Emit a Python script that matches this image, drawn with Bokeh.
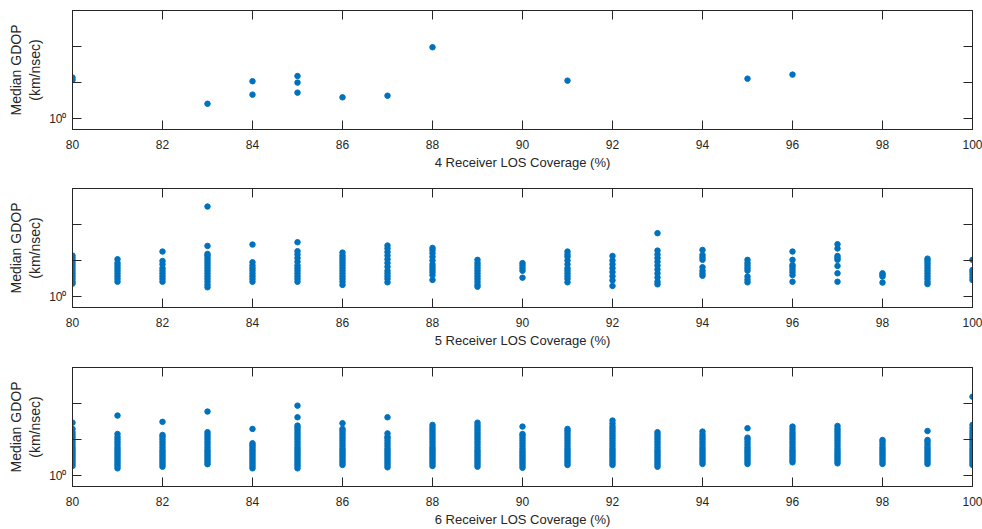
from bokeh.plotting import figure
from bokeh.models import FixedTicker, CustomJSTickFormatter, LinearAxis, LogAxis, Range1d
from bokeh.layouts import column
from bokeh.embed import file_html
from bokeh.resources import INLINE

# ---------------- data ----------------
xtick_values = [80, 82, 84, 86, 88, 90, 92, 94, 96, 98, 100]
ytick_values = [1.0, 1.2589, 1.5849, 1.9953]
ytick_labels = ["10\u2070", "", "", ""]

cov4 = [80, 83, 84, 85, 86, 87, 88, 91, 95, 96]
gdop4 = [
    [1.28, 1.30],
    [1.10],
    [1.166, 1.27],
    [1.181, 1.259, 1.313],
    [1.146],
    [1.158],
    [1.578],
    [1.275],
    [1.291],
    [1.325],
]

cov5 = [80, 81, 82, 83, 84, 85, 86, 87, 88, 89, 90, 91, 92, 93, 94, 95, 96, 97, 98, 99, 100]
gdop5 = [
    [1.087, 1.10, 1.12, 1.14, 1.16, 1.18, 1.20, 1.22, 1.24, 1.26, 1.28, 1.30],
    [1.10, 1.12, 1.14, 1.16, 1.18, 1.20, 1.22, 1.24, 1.27],
    [1.10, 1.12, 1.14, 1.16, 1.18, 1.20, 1.23, 1.256, 1.334],
    [1.062, 1.08, 1.10, 1.12, 1.14, 1.16, 1.18, 1.20, 1.22, 1.24, 1.26, 1.28, 1.30, 1.314, 1.383, 1.778],
    [1.10, 1.12, 1.14, 1.16, 1.18, 1.20, 1.22, 1.246, 1.395],
    [1.10, 1.12, 1.14, 1.16, 1.18, 1.20, 1.22, 1.25, 1.28, 1.31, 1.337, 1.416],
    [1.078, 1.10, 1.12, 1.14, 1.16, 1.18, 1.20, 1.22, 1.24, 1.26, 1.28, 1.30, 1.325],
    [1.096, 1.12, 1.14, 1.16, 1.18, 1.21, 1.24, 1.27, 1.30, 1.33, 1.36, 1.386],
    [1.113, 1.148, 1.17, 1.19, 1.21, 1.23, 1.26, 1.29, 1.32, 1.345, 1.365],
    [1.066, 1.08, 1.10, 1.12, 1.14, 1.16, 1.18, 1.20, 1.22, 1.24, 1.265],
    [1.129, 1.18, 1.20, 1.22, 1.239],
    [1.096, 1.12, 1.14, 1.16, 1.18, 1.20, 1.23, 1.26, 1.29, 1.31, 1.334],
    [1.071, 1.11, 1.14, 1.17, 1.20, 1.23, 1.26, 1.297],
    [1.082, 1.10, 1.13, 1.16, 1.19, 1.22, 1.25, 1.28, 1.31, 1.342, 1.50],
    [1.143, 1.16, 1.18, 1.207, 1.265, 1.285, 1.305, 1.348],
    [1.096, 1.115, 1.137, 1.181, 1.20, 1.22, 1.24, 1.265],
    [1.10, 1.148, 1.17, 1.19, 1.21, 1.224, 1.265, 1.334],
    [1.10, 1.161, 1.217, 1.265, 1.28, 1.297, 1.36, 1.398],
    [1.094, 1.137, 1.15, 1.161],
    [1.084, 1.10, 1.12, 1.14, 1.16, 1.18, 1.20, 1.22, 1.24, 1.26, 1.275],
    [1.112, 1.13, 1.15, 1.17, 1.186, 1.265],
]

cov6 = [80, 81, 82, 83, 84, 85, 86, 87, 88, 89, 90, 91, 92, 93, 94, 95, 96, 97, 98, 99, 100]
gdop6 = [
    [1.064, 1.08, 1.095, 1.11, 1.125, 1.14, 1.155, 1.17, 1.185, 1.20, 1.22, 1.24, 1.26, 1.28, 1.30, 1.32, 1.348, 1.403],
    [1.048, 1.063, 1.078, 1.093, 1.108, 1.123, 1.138, 1.153, 1.168, 1.183, 1.20, 1.22, 1.24, 1.26, 1.28, 1.305, 1.468],
    [1.059, 1.074, 1.089, 1.104, 1.12, 1.135, 1.15, 1.165, 1.18, 1.20, 1.22, 1.24, 1.26, 1.28, 1.297, 1.41],
    [1.076, 1.09, 1.105, 1.12, 1.135, 1.15, 1.165, 1.18, 1.20, 1.22, 1.24, 1.26, 1.28, 1.30, 1.32, 1.506],
    [1.048, 1.063, 1.078, 1.093, 1.108, 1.123, 1.138, 1.153, 1.168, 1.183, 1.20, 1.215, 1.23, 1.348],
    [1.048, 1.063, 1.078, 1.093, 1.108, 1.123, 1.138, 1.153, 1.168, 1.183, 1.20, 1.22, 1.24, 1.26, 1.28, 1.30, 1.32, 1.34, 1.36, 1.377, 1.452, 1.564],
    [1.071, 1.086, 1.10, 1.115, 1.13, 1.145, 1.16, 1.175, 1.19, 1.21, 1.23, 1.25, 1.27, 1.29, 1.31, 1.33, 1.348, 1.398],
    [1.055, 1.07, 1.085, 1.10, 1.115, 1.13, 1.145, 1.16, 1.175, 1.19, 1.21, 1.23, 1.25, 1.27, 1.283, 1.31, 1.452],
    [1.064, 1.08, 1.095, 1.11, 1.125, 1.14, 1.155, 1.17, 1.185, 1.20, 1.22, 1.24, 1.26, 1.28, 1.30, 1.32, 1.34, 1.36, 1.383],
    [1.059, 1.074, 1.089, 1.104, 1.12, 1.135, 1.15, 1.165, 1.18, 1.20, 1.22, 1.24, 1.26, 1.28, 1.30, 1.32, 1.34, 1.36, 1.38, 1.403],
    [1.052, 1.067, 1.082, 1.097, 1.112, 1.127, 1.142, 1.157, 1.172, 1.19, 1.21, 1.23, 1.25, 1.27, 1.29, 1.305, 1.368],
    [1.071, 1.086, 1.10, 1.115, 1.13, 1.145, 1.16, 1.175, 1.19, 1.21, 1.23, 1.25, 1.27, 1.29, 1.31, 1.33, 1.348],
    [1.071, 1.086, 1.10, 1.115, 1.13, 1.145, 1.16, 1.175, 1.19, 1.21, 1.23, 1.25, 1.27, 1.29, 1.31, 1.33, 1.35, 1.37, 1.395, 1.422],
    [1.059, 1.074, 1.089, 1.104, 1.12, 1.135, 1.15, 1.165, 1.18, 1.20, 1.22, 1.24, 1.26, 1.28, 1.30, 1.32],
    [1.078, 1.093, 1.108, 1.123, 1.138, 1.153, 1.168, 1.183, 1.20, 1.22, 1.24, 1.26, 1.28, 1.30, 1.325],
    [1.078, 1.093, 1.108, 1.123, 1.138, 1.153, 1.168, 1.183, 1.20, 1.22, 1.24, 1.26, 1.275, 1.354],
    [1.089, 1.104, 1.12, 1.135, 1.15, 1.165, 1.18, 1.20, 1.22, 1.24, 1.26, 1.28, 1.30, 1.32, 1.345, 1.368],
    [1.082, 1.097, 1.112, 1.127, 1.142, 1.157, 1.172, 1.19, 1.21, 1.23, 1.25, 1.27, 1.29, 1.31, 1.33, 1.35, 1.374],
    [1.078, 1.093, 1.108, 1.123, 1.138, 1.153, 1.168, 1.183, 1.20, 1.22, 1.24, 1.256],
    [1.078, 1.093, 1.108, 1.123, 1.138, 1.153, 1.168, 1.183, 1.20, 1.22, 1.24, 1.256, 1.33],
    [1.071, 1.086, 1.10, 1.115, 1.13, 1.145, 1.16, 1.175, 1.19, 1.21, 1.23, 1.25, 1.27, 1.29, 1.31, 1.33, 1.355, 1.383, 1.656],
]

x_labels = ["4 Receiver LOS Coverage (%)", "5 Receiver LOS Coverage (%)", "6 Receiver LOS Coverage (%)"]
y_label = "Median GDOP\n(km/nsec)"

# ---------------- styling ----------------
FONT = "Liberation Sans"
AX = "#262626"
DOT = "#0072BD"

ylab_js = ("const tv = %s; const tl = %s; "
           "for (let i = 0; i < tv.length; i++) { if (Math.abs(tick - tv[i]) < 1e-3) return tl[i]; } "
           "return '';") % (str(ytick_values), "[" + ",".join("'" + s + "'" for s in ytick_labels) + "]")
blank_js = "return '';"


def style_axis(ax, show_labels, label_size="13px"):
    ax.axis_line_color = AX
    ax.axis_line_width = 1
    ax.major_tick_line_color = AX
    ax.major_tick_in = 9
    ax.major_tick_out = 0
    ax.minor_tick_line_color = None
    ax.major_label_text_font = FONT
    ax.major_label_text_color = AX
    ax.major_label_text_font_size = "12px" if show_labels else "0px"
    ax.axis_label_text_font = FONT
    ax.axis_label_text_color = AX
    ax.axis_label_text_font_size = label_size
    ax.axis_label_text_font_style = "normal"


def make_panel(cov, gdop, xlabel, height, top, bottom):
    xs, ys = [], []
    for c, vals in zip(cov, gdop):
        for v in vals:
            xs.append(c)
            ys.append(v)
    p = figure(width=982, height=height, x_range=Range1d(80, 100),
               y_range=Range1d(10 ** -0.03, 10 ** 0.3), y_axis_type="log",
               output_backend="svg", toolbar_location=None,
               min_border_left=72, min_border_right=10,
               min_border_top=top, min_border_bottom=bottom)
    p.grid.visible = False
    p.outline_line_color = AX
    p.background_fill_color = "white"
    p.border_fill_color = "white"
    p.scatter(xs, ys, size=5.5, color=DOT, line_color=DOT)

    xa = p.xaxis[0]
    xa.ticker = FixedTicker(ticks=xtick_values)
    style_axis(xa, True, "13px")
    xa.axis_label = xlabel
    xa.major_label_standoff = 10
    xa.axis_label_standoff = 3

    ya = p.yaxis[0]
    ya.ticker = FixedTicker(ticks=ytick_values)
    ya.formatter = CustomJSTickFormatter(code=ylab_js)
    style_axis(ya, True, "14px")
    ya.axis_label = y_label
    ya.major_label_standoff = 6
    ya.axis_label_standoff = 3

    top_ax = LinearAxis(ticker=FixedTicker(ticks=xtick_values),
                        formatter=CustomJSTickFormatter(code=blank_js))
    style_axis(top_ax, False)
    top_ax.major_label_standoff = 0
    p.add_layout(top_ax, "above")

    right_ax = LogAxis(ticker=FixedTicker(ticks=ytick_values),
                       formatter=CustomJSTickFormatter(code=blank_js))
    style_axis(right_ax, False)
    right_ax.major_label_standoff = 0
    p.add_layout(right_ax, "right")
    return p


p1 = make_panel(cov4, gdop4, x_labels[0], 186, 10, 57)
p2 = make_panel(cov5, gdop5, x_labels[1], 178, 2, 57)
p3 = make_panel(cov6, gdop6, x_labels[2], 165, 3, 43)

layout = column(p1, p2, p3, spacing=0)

open("out.html", "w").write(file_html(layout, INLINE))
